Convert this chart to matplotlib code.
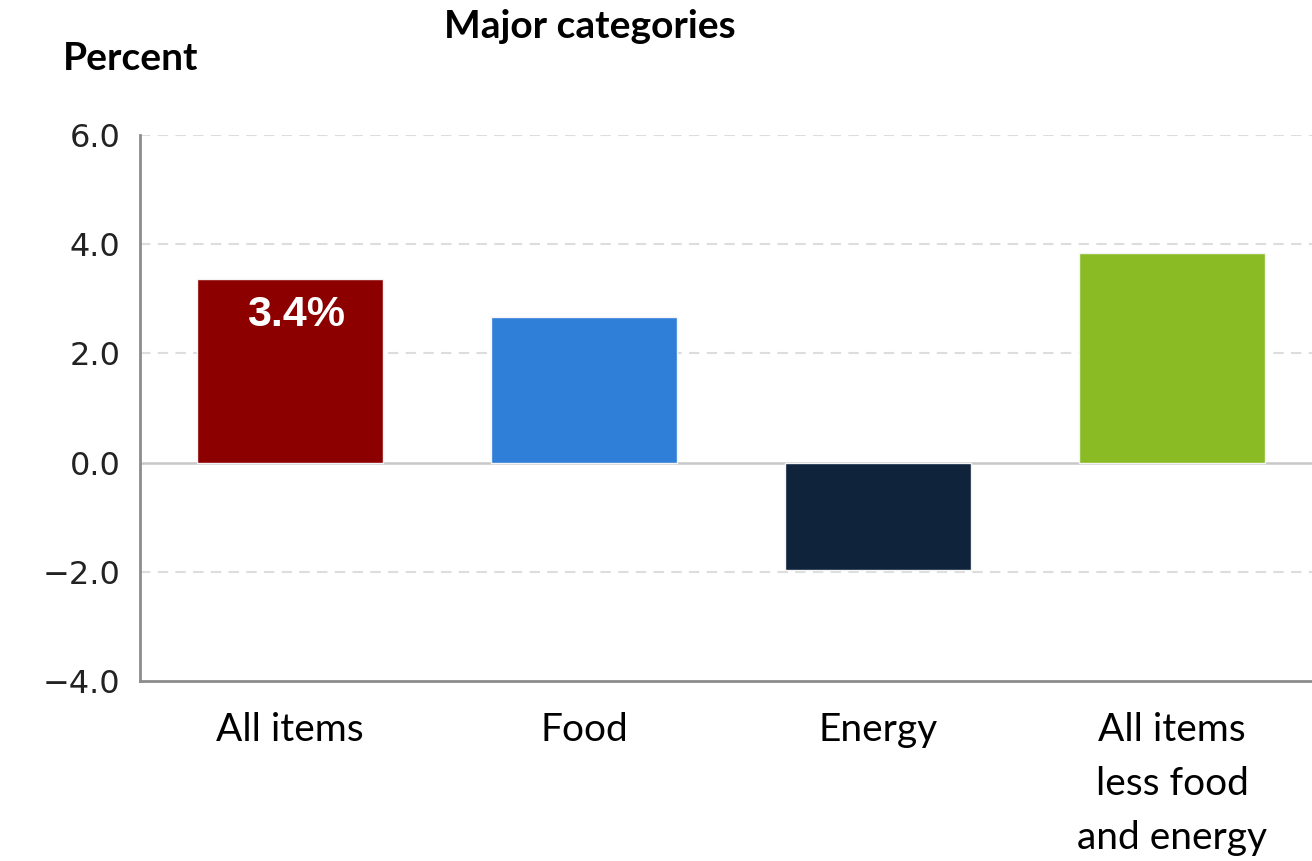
import matplotlib.pyplot as plt
import numpy as np

categories = ['All items', 'Food', 'Energy', 'All items\nless food\nand energy']
values = [3.37, 2.67, -1.97, 3.83]
colors = ['#8c0000', '#2f7fd9', '#0f233b', '#8bbb24']
yticks = [-4.0, -2.0, 0.0, 2.0, 4.0, 6.0]
bar_label = '3.4%'

fig = plt.figure(figsize=(13.12, 8.61), dpi=100)
ax = fig.add_axes([140 / 1312, 1 - 681 / 861, 1 - 140 / 1312, (681 - 135) / 861])

x = np.arange(len(categories))
ax.bar(x, values, width=0.633, color=colors, edgecolor='#f4f4f4', linewidth=1, zorder=3)

ax.set_xlim(-0.51, 3.476)
ax.set_ylim(-4, 6)
ax.set_yticks(yticks)
ax.set_yticklabels([f'{v:.1f}'.replace('-', '\u2212') for v in yticks],
                   fontsize=23, color='#222222', family='DejaVu Sans')
ax.set_xticks(x)
ax.set_xticklabels(categories, fontsize=28, family='Lato', linespacing=1.62, va='top')
ax.tick_params(axis='both', length=0)
ax.tick_params(axis='y', pad=14)
ax.tick_params(axis='x', pad=22)

for v in [-2, 2, 4, 6]:
    ax.axhline(v, color='#dddddd', lw=1.5, ls=(0, (5, 3.5)), zorder=1)
ax.axhline(0, color='#c8c8c8', lw=1.8, zorder=2)

for s in ['top', 'right']:
    ax.spines[s].set_visible(False)
for s in ['left', 'bottom']:
    ax.spines[s].set_color('#8c8c8c')
    ax.spines[s].set_linewidth(2)

ax.annotate(bar_label, xy=(x[0], values[0]), xytext=(4.5, -26), textcoords='offset points',
            ha='center', va='center', color='white', fontsize=31, fontweight='bold',
            family='Liberation Sans', zorder=4)

fig.text(590 / 1312, 1 - 27 / 861, 'Major categories', ha='center', va='center',
         fontsize=28, fontweight='bold', family='Lato')
fig.text(63 / 1312, 1 - 59 / 861, 'Percent', ha='left', va='center',
         fontsize=28, fontweight='bold', family='Lato')

fig.savefig('out.png', dpi=100)
